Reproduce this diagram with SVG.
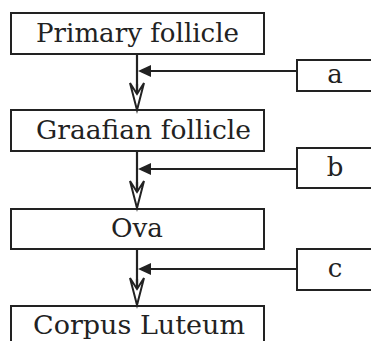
<svg xmlns="http://www.w3.org/2000/svg" width="371" height="341" viewBox="0 0 371 341">
<style>
.box{fill:#fff;stroke:#222;stroke-width:2}
.t{font-family:"DejaVu Serif","Liberation Serif",serif;font-size:26px;fill:#222;text-anchor:middle}
.ln{stroke:#222;stroke-width:2.2;fill:none}
.hd{fill:#222}
.open{fill:#fff;stroke:#222;stroke-width:2;stroke-linejoin:miter}
</style>
<defs>
<path id="down" d="M-7,0 L0,27 L7,0 L0,11 Z"/>
<path id="left" d="M0,0 L13,-6 L13,6 Z"/>
</defs>
<g id="n1"><rect class="box" x="11" y="13" width="253" height="41"/><text class="t" x="137.5" y="41.5" textLength="203" lengthAdjust="spacingAndGlyphs">Primary follicle</text></g>
<g id="n2"><rect class="box" x="11" y="110" width="253" height="41"/><text class="t" x="143.5" y="138.5" textLength="215" lengthAdjust="spacingAndGlyphs">Graafian follicle</text></g>
<g id="n3"><rect class="box" x="11" y="209" width="253" height="40"/><text class="t" x="137" y="237" textLength="52" lengthAdjust="spacingAndGlyphs">Ova</text></g>
<g id="n4"><path class="box" d="M11,342 V306 H264 V342"/><text class="t" x="139" y="334" textLength="212" lengthAdjust="spacingAndGlyphs">Corpus Luteum</text></g>
<g id="na"><rect class="box" x="297" y="60" width="80" height="31"/><text class="t" x="335" y="83">a</text></g>
<g id="nb"><rect class="box" x="297" y="148" width="80" height="40"/><text class="t" x="335" y="176">b</text></g>
<g id="nc"><rect class="box" x="297" y="249" width="80" height="41"/><text class="t" x="335" y="277">c</text></g>
<g id="connectors">
<line class="ln" x1="137" y1="54" x2="137" y2="108"/>
<use href="#down" class="open" x="137" y="83"/>
<line class="ln" x1="137" y1="84" x2="137" y2="94"/>
<line class="ln" x1="297" y1="71" x2="146" y2="71"/>
<use href="#left" class="hd" x="138" y="71"/>
<line class="ln" x1="137" y1="151" x2="137" y2="207"/>
<use href="#down" class="open" x="137" y="181"/>
<line class="ln" x1="137" y1="182" x2="137" y2="192"/>
<line class="ln" x1="297" y1="169" x2="146" y2="169"/>
<use href="#left" class="hd" x="138" y="169"/>
<line class="ln" x1="137" y1="249" x2="137" y2="304"/>
<use href="#down" class="open" x="137" y="278"/>
<line class="ln" x1="137" y1="279" x2="137" y2="289"/>
<line class="ln" x1="297" y1="269" x2="146" y2="269"/>
<use href="#left" class="hd" x="138" y="269"/>
</g>
</svg>
